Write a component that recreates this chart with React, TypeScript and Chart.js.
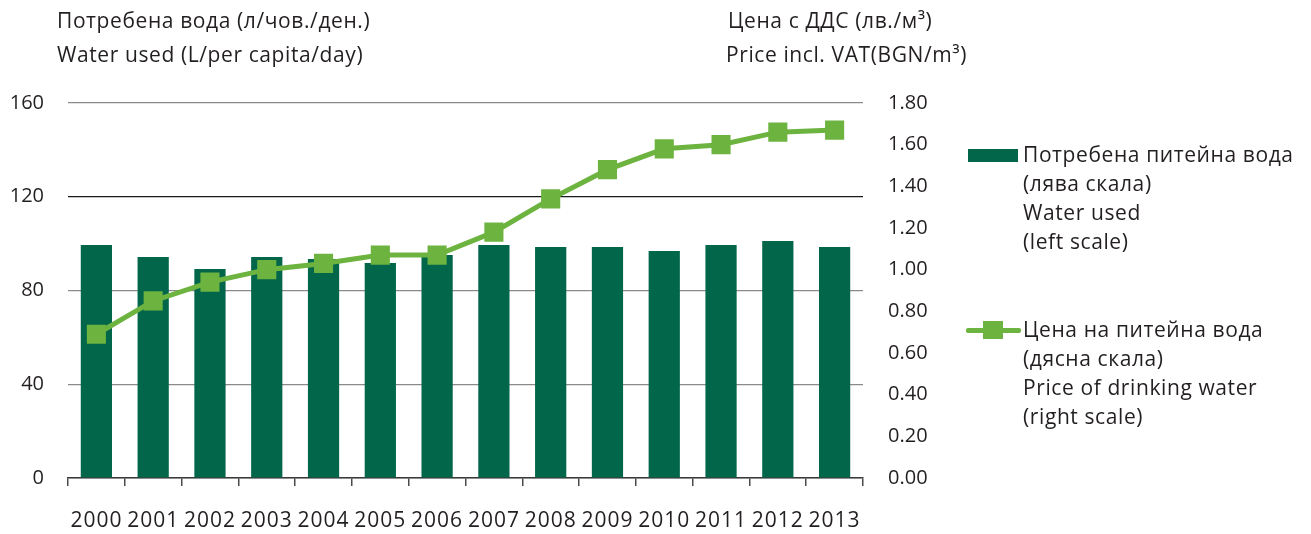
import React, { useEffect, useRef } from "react";
import { Chart, registerables } from "chart.js";

Chart.register(...registerables);

const years = ["2000", "2001", "2002", "2003", "2004", "2005", "2006", "2007", "2008", "2009", "2010", "2011", "2012", "2013"];
const waterUsed = [99.4, 94.3, 89.2, 94.3, 93.4, 91.7, 95.1, 99.4, 98.6, 98.6, 96.9, 99.4, 101.1, 98.6];
const price = [0.69, 0.85, 0.94, 1.0, 1.03, 1.07, 1.07, 1.18, 1.34, 1.48, 1.58, 1.6, 1.66, 1.67];
const leftTicks = [0, 40, 80, 120, 160];
const rightTickStep = 0.2;

const BAR_COLOR = "#02664b";
const LINE_COLOR = "#6db33f";
const TEXT_COLOR = "#231f20";
const FONT = "'Open Sans', 'Noto Sans', sans-serif";

const xLabelSpacing = {
  id: "xLabelSpacing",
  afterLayout(chart: any) {
    const sc = chart.scales.x;
    if (!sc || sc.__wrapped) return;
    const orig = sc.drawLabels.bind(sc);
    sc.drawLabels = (area: any) => {
      const ctx = chart.ctx as any;
      ctx.save();
      ctx.letterSpacing = "1px";
      orig(area);
      ctx.restore();
    };
    sc.__wrapped = true;
  },
};

export default function App() {
  const ref = useRef<HTMLCanvasElement | null>(null);

  useEffect(() => {
    if (!ref.current) return;
    const chart = new Chart(ref.current, {
      type: "bar",
      data: {
        labels: years,
        datasets: [
          {
            type: "line",
            label: "Цена на питейна вода",
            data: price,
            yAxisID: "y1",
            borderColor: LINE_COLOR,
            backgroundColor: LINE_COLOR,
            borderWidth: 5,
            pointStyle: "rect",
            pointRadius: 13.5,
            pointBorderWidth: 0,
            tension: 0,
            order: 0,
          } as any,
          {
            type: "bar",
            label: "Потребена питейна вода",
            data: waterUsed,
            yAxisID: "y",
            backgroundColor: BAR_COLOR,
            borderWidth: 0,
            categoryPercentage: 1,
            barPercentage: 0.55,
            order: 1,
          },
        ],
      },
      options: {
        animation: false,
        responsive: false,
        devicePixelRatio: 1,
        layout: { padding: { left: 0, right: 368, top: 103, bottom: 0 } },
        plugins: { legend: { display: false }, tooltip: { enabled: false } },
        scales: {
          x: {
            offset: true,
            grid: {
              offset: true,
              drawOnChartArea: false,
              drawTicks: true,
              tickLength: 8,
              color: "#4a4a4a",
              lineWidth: 1.5,
            },
            border: { display: true, color: "#3a3a3a", width: 1.5 },
            ticks: {
              color: TEXT_COLOR,
              font: { family: FONT, size: 21 },
              padding: 22,
              maxRotation: 0,
              autoSkip: false,
            },
            afterFit: (s: any) => {
              s.height = 56;
            },
          },
          y: {
            position: "left",
            min: 0,
            max: 160,
            afterBuildTicks: (s: any) => {
              s.ticks = leftTicks.map((v) => ({ value: v }));
            },
            grid: {
              drawTicks: false,
              color: (ctx: any) => (ctx.tick && ctx.tick.value === 120 ? "#1a1a1a" : "#8a8a8a"),
              lineWidth: 1.2,
            },
            border: { display: false },
            ticks: {
              color: TEXT_COLOR,
              font: { family: FONT, size: 20 },
              padding: 24,
            },
            afterFit: (s: any) => {
              s.width = 68;
            },
          },
          y1: {
            position: "right",
            min: 0,
            max: 1.8,
            grid: { display: false, drawOnChartArea: false },
            border: { display: false },
            ticks: {
              stepSize: rightTickStep,
              color: TEXT_COLOR,
              font: { family: FONT, size: 20 },
              padding: 17,
              callback: (v: any) => Number(v).toFixed(2),
            },
            afterFit: (s: any) => {
              s.width = 80;
            },
          },
        },
      },
      plugins: [xLabelSpacing],
    });
    return () => chart.destroy();
  }, []);

  const textStyle: React.CSSProperties = {
    position: "absolute",
    fontFamily: FONT,
    fontSize: 21,
    letterSpacing: "0.6px",
    color: TEXT_COLOR,
    whiteSpace: "nowrap",
    lineHeight: "34px",
  };
  const legendText: React.CSSProperties = {
    position: "absolute",
    fontFamily: FONT,
    fontSize: 21,
    letterSpacing: "0.6px",
    color: TEXT_COLOR,
    whiteSpace: "nowrap",
    lineHeight: "29px",
  };

  return (
    <div style={{ position: "absolute", left: 0, top: 0, width: 1311, height: 534, background: "#fff" }}>
      <canvas ref={ref} width={1311} height={534} style={{ position: "absolute", left: 0, top: 0 }} />
      <div style={{ ...textStyle, left: 57, top: 3 }}>
        <div>Потребена вода (л/чов./ден.)</div>
        <div>Water used (L/per capita/day)</div>
      </div>
      <div style={{ ...textStyle, left: 726, top: 3 }}>
        <div style={{ paddingLeft: 2 }}>Цена с ДДС (лв./м³)</div>
        <div>Price incl. VAT(BGN/m³)</div>
      </div>
      <div style={{ position: "absolute", left: 968, top: 149, width: 50, height: 13, background: BAR_COLOR }} />
      <div style={{ ...legendText, left: 1023, top: 140 }}>
        <div>Потребена питейна вода</div>
        <div>(лява скала)</div>
        <div>Water used</div>
        <div>(left scale)</div>
      </div>
      <div style={{ position: "absolute", left: 966, top: 328, width: 55, height: 5, background: LINE_COLOR, borderRadius: 2 }} />
      <div style={{ position: "absolute", left: 983, top: 321, width: 20, height: 18, background: LINE_COLOR }} />
      <div style={{ ...legendText, left: 1023, top: 315 }}>
        <div>Цена на питейна вода</div>
        <div>(дясна скала)</div>
        <div>Price of drinking water</div>
        <div>(right scale)</div>
      </div>
    </div>
  );
}
